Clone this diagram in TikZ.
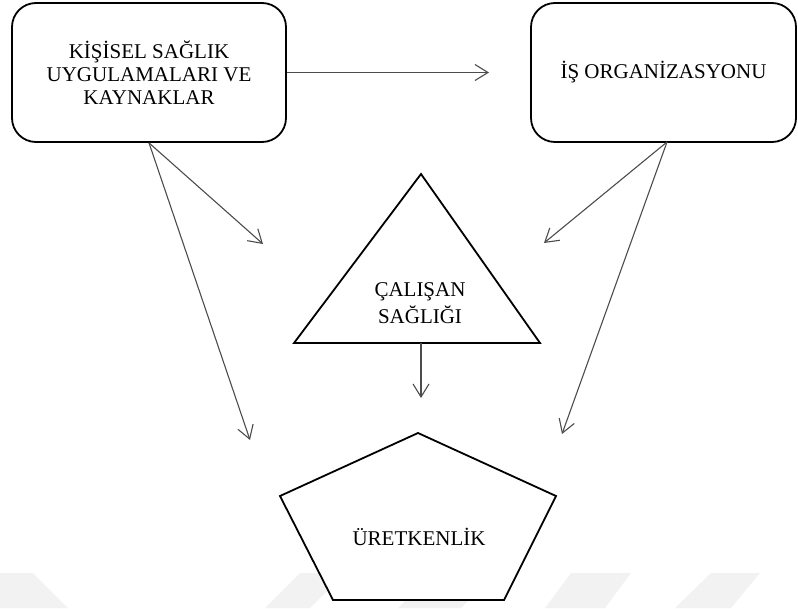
\documentclass[tikz,border=0pt]{standalone}
\usepackage{fontspec}
\setmainfont{Liberation Serif}
\usetikzlibrary{arrows.meta}
\begin{document}
\begin{tikzpicture}[x=1pt,y=-1pt,
  box/.style={draw=black,line width=1.8pt,rounded corners=24pt,inner sep=0pt,align=center,font=\fontsize{21}{23}\selectfont},
  lbl/.style={align=center,inner sep=0pt,font=\fontsize{21}{27}\selectfont},
  shp/.style={draw=black,line width=1.8pt,line join=miter,fill=white},
  conn/.style={draw=black!70,line width=1.1pt,-{Straight Barb[length=13pt,width=16pt,line width=1.1pt]}},
  wm/.style={fill=black!5,draw=none}]
\useasboundingbox (0,0) rectangle (798,608);
% faint watermark
\fill[wm] (0,573) -- (33,573) -- (68,608) -- (0,608) -- cycle;
\fill[wm] (300,573) -- (345,573) -- (310,608) -- (265,608) -- cycle;
\fill[wm] (433,573) -- (496,573) -- (461,608) -- (398,608) -- cycle;
\fill[wm] (571,573) -- (631,573) -- (605,608) -- (545,608) -- cycle;
\fill[wm] (711,573) -- (760,573) -- (731,608) -- (675,608) -- cycle;
% boxes
\node[box,minimum width=274pt,minimum height=139pt] (L) at (149,72.5) {KİŞİSEL SAĞLIK\\UYGULAMALARI VE\\KAYNAKLAR};
\node[box,minimum width=265pt,minimum height=139pt] (R) at (663.5,72.5) {İŞ ORGANİZASYONU};
% triangle
\coordinate (Ttop) at (421,174);
\coordinate (Tl) at (294,343);
\coordinate (Tr) at (540,343);
\coordinate (Tb) at (421,343);
\draw[shp] (Ttop) -- (Tl) -- (Tr) -- cycle;
\node[lbl] (C) at (420,303) {ÇALIŞAN\\SAĞLIĞI};
% pentagon
\coordinate (Ptop) at (418,433);
\coordinate (Pl) at (280,496);
\coordinate (Pbl) at (333,600);
\coordinate (Pbr) at (504,600);
\coordinate (Pr) at (556,496);
\draw[shp] (Ptop) -- (Pl) -- (Pbl) -- (Pbr) -- (Pr) -- cycle;
\node[lbl] (U) at (419,537) {ÜRETKENLİK};
% free arrow ends
\coordinate (e1) at (489,72.5);
\coordinate (e2) at (263,244);
\coordinate (e3) at (250,440);
\coordinate (e4) at (544,243);
\coordinate (e5) at (562,434);
\coordinate (e6) at (421,398);
\coordinate (Rs) at (667,142);
% connectors
\draw[conn] (L.east) -- (e1);
\draw[conn] (L.south) -- (e2);
\draw[conn] (L.south) -- (e3);
\draw[conn] (Rs) -- (e4);
\draw[conn] (Rs) -- (e5);
\draw[conn] (Tb) -- (e6);
\end{tikzpicture}
\end{document}
